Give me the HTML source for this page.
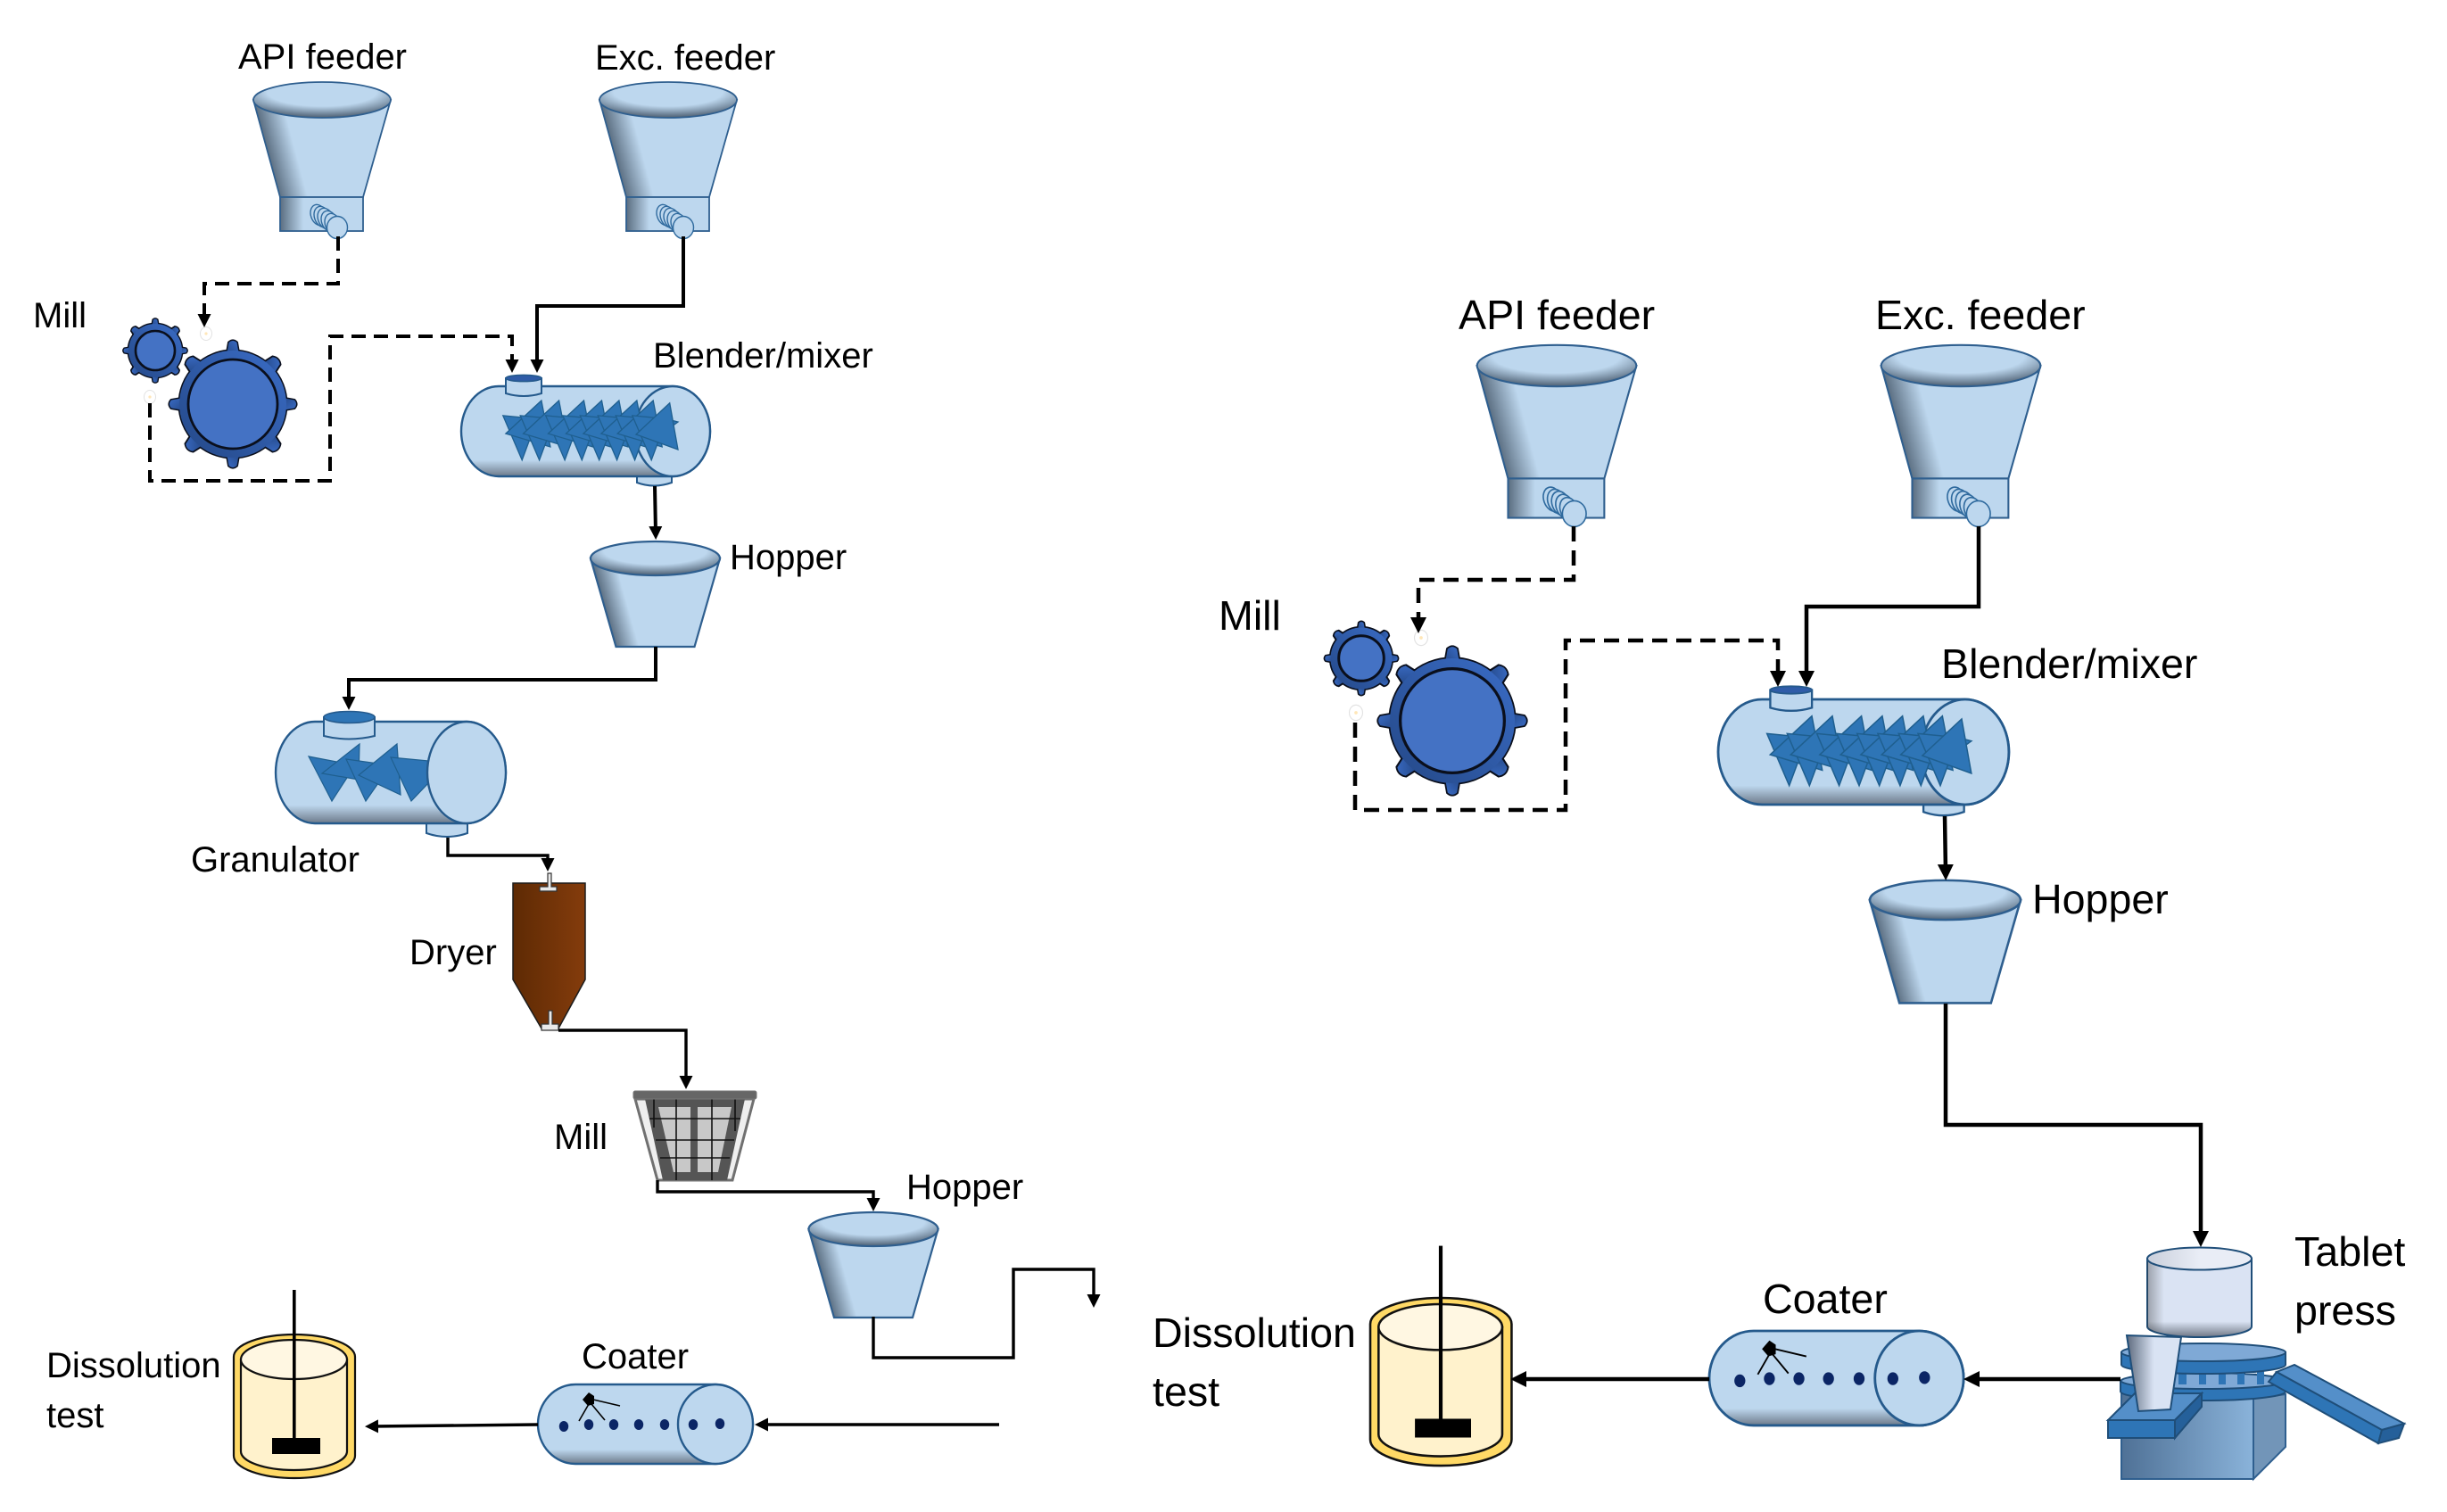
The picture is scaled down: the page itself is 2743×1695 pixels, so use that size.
<!DOCTYPE html>
<html><head><meta charset="utf-8"><style>
html,body{margin:0;padding:0;background:#fff}
svg{display:block}
text{font-family:"Liberation Sans",Arial,sans-serif;fill:#000}
</style></head><body>
<svg width="2743" height="1695" viewBox="0 0 2743 1695" xmlns="http://www.w3.org/2000/svg">
<defs>
<linearGradient id="gL" x1="0" x2="1" y1="0" y2="0"><stop offset="0" stop-color="#5a6d80"/><stop offset=".28" stop-color="#bdd7ee"/><stop offset="1" stop-color="#bdd7ee"/></linearGradient>
<linearGradient id="gTrunk" gradientUnits="userSpaceOnUse" x1="-48" y1="109" x2="-18" y2="101"><stop offset="0" stop-color="#5a6d80"/><stop offset="1" stop-color="#bdd7ee"/></linearGradient>
<linearGradient id="gHop" gradientUnits="userSpaceOnUse" x1="-45" y1="99" x2="-20" y2="92"><stop offset="0" stop-color="#5a6d80"/><stop offset="1" stop-color="#bdd7ee"/></linearGradient>
<radialGradient id="gT" cx=".5" cy=".28" r=".72"><stop offset="0" stop-color="#bdd7ee"/><stop offset=".55" stop-color="#bdd7ee"/><stop offset="1" stop-color="#4d5f72"/></radialGradient>
<linearGradient id="gB" x1="0" x2="0" y1="0" y2="1"><stop offset="0" stop-color="#bdd7ee"/><stop offset=".82" stop-color="#bdd7ee"/><stop offset="1" stop-color="#6d7a8a"/></linearGradient>
<linearGradient id="gDry" x1="0" x2="1" y1="0" y2="0"><stop offset="0" stop-color="#5e2a04"/><stop offset="1" stop-color="#843c0c"/></linearGradient>
<linearGradient id="gBase" x1="0" x2="1" y1="0" y2="0"><stop offset="0" stop-color="#4f7196"/><stop offset="1" stop-color="#8ab3da"/></linearGradient>
<linearGradient id="gCyl" x1="0" x2="0" y1="0" y2="1"><stop offset="0" stop-color="#dae3f3"/><stop offset=".8" stop-color="#dae3f3"/><stop offset="1" stop-color="#6f7785"/></linearGradient>
<linearGradient id="gCylL" x1="0" x2="1" y1="0" y2="0"><stop offset="0" stop-color="#333" stop-opacity=".38"/><stop offset=".16" stop-color="#333" stop-opacity="0"/></linearGradient>
<linearGradient id="gTop2" x1="0" x2="1" y1="0" y2="0"><stop offset="0" stop-color="#c9cfdb"/><stop offset=".5" stop-color="#e9edf6"/></linearGradient>
<linearGradient id="gFun" x1="0" x2="1" y1="0" y2="0"><stop offset="0" stop-color="#5e6a7e"/><stop offset=".5" stop-color="#d9e3f3"/></linearGradient>
<linearGradient id="gGear" x1="0" x2="1" y1="1" y2="0"><stop offset="0" stop-color="#244887"/><stop offset="1" stop-color="#3a6cc6"/></linearGradient>

<marker id="a1" markerUnits="userSpaceOnUse" markerWidth="17" markerHeight="16" refX="8" refY="8" orient="auto"><polygon points="0,0.5 15,8 0,15.5" fill="#000"/></marker>
<marker id="a2" markerUnits="userSpaceOnUse" markerWidth="20" markerHeight="20" refX="8" refY="10" orient="auto"><polygon points="0,1 18,10 0,19" fill="#000"/></marker>

<g id="feeder" stroke="#2f5f8f" stroke-width="1.8">
 <path d="M-77,0 L-47,109 H46 L77,0 Z" fill="url(#gTrunk)"/>
 <rect x="-47" y="109" width="93" height="38" fill="url(#gL)"/>
 <ellipse cx="0" cy="0" rx="77" ry="20" fill="url(#gT)"/>
 <g fill="#bdd7ee" stroke="#2f6a9e" stroke-width="1.4">
  <ellipse cx="-4" cy="129" rx="8.5" ry="12" transform="rotate(-20 -4 129)"/>
  <ellipse cx="0" cy="131" rx="8.5" ry="12" transform="rotate(-20 0 131)"/>
  <ellipse cx="4" cy="133" rx="8.5" ry="12" transform="rotate(-20 4 133)"/>
  <ellipse cx="8" cy="136" rx="8.5" ry="12" transform="rotate(-20 8 136)"/>
  <ellipse cx="12" cy="139" rx="8.5" ry="12" transform="rotate(-20 12 139)"/>
  <ellipse cx="17" cy="143" rx="11.5" ry="12.5"/>
 </g>
</g>

<g id="hopper" stroke="#2f5f8f" stroke-width="2.2">
 <path d="M-72.5,0 L-44,99 H44 L72.5,0 Z" fill="url(#gHop)"/>
 <ellipse cx="0" cy="0" rx="72.5" ry="19" fill="url(#gT)"/>
</g>

<path id="tooth" d="M-7,-55 L-4.5,-69 Q0,-73 4.5,-69 L7,-55 Z"/>
<g id="sil">
 <use href="#tooth"/>
 <use href="#tooth" transform="rotate(45) scale(1.25,1)"/>
 <use href="#tooth" transform="rotate(90)"/>
 <use href="#tooth" transform="rotate(135) scale(1.25,1)"/>
 <use href="#tooth" transform="rotate(180)"/>
 <use href="#tooth" transform="rotate(225) scale(1.25,1)"/>
 <use href="#tooth" transform="rotate(270)"/>
 <use href="#tooth" transform="rotate(315) scale(1.25,1)"/>
 <circle r="60"/>
</g>
<g id="gearBig">
 <use href="#sil" fill="#0a0f1c" stroke="#0a0f1c" stroke-width="3"/>
 <use href="#sil" fill="url(#gGear)"/>
 <circle r="50" fill="#4472c4" stroke="#0a0f1c" stroke-width="2.8"/>
</g>
<g id="gearSmall">
 <g transform="scale(.5)">
  <use href="#sil" fill="#0a0f1c" stroke="#0a0f1c" stroke-width="5.5"/>
  <use href="#sil" fill="url(#gGear)"/>
 </g>
 <circle r="22" fill="#4472c4" stroke="#0a0f1c" stroke-width="2.6"/>
</g>

<g id="blender">
 <path d="M197,101 H236 V108 Q216,115 197,108 Z" fill="#bdd7ee" stroke="#255a8c" stroke-width="2"/>
 <path d="M42,0 H237 A42,50.5 0 0 1 237,101 H42 A42,50.5 0 0 1 42,0 Z" fill="url(#gB)" stroke="#255a8c" stroke-width="2.4"/>
 <ellipse cx="237" cy="50.5" rx="42" ry="50.5" fill="#bdd7ee" stroke="#255a8c" stroke-width="2.4"/>
 <path d="M50,-9 V8 Q70,14 90,8 V-9 Z" fill="#bdd7ee" stroke="#255a8c" stroke-width="2"/>
 <ellipse cx="70" cy="-9" rx="20" ry="3.6" fill="#2f5ca8" stroke="#255a8c" stroke-width="1.6"/>
 <g fill="#2e75b6" stroke="#1f5f8f" stroke-width="1.3">
  <polygon points="228,36 243,40 232,48"/>
  <polygon points="46.8,32.9 85.3,36.6 68.2,82.8"/>
  <polygon points="89.9,16 49.9,53.1 99.9,68"/>
  <polygon points="66.2,32.9 104.7,36.6 87.6,82.8"/>
  <polygon points="109.6,16 69.6,53.1 119.6,68"/>
  <polygon points="94.7,32.9 133.2,36.6 116.1,82.8"/>
  <polygon points="137.5,16 97.5,53.1 147.5,68"/>
  <polygon points="113.9,32.9 152.4,36.6 135.3,82.8"/>
  <polygon points="157.5,16 117.5,53.1 167.5,68"/>
  <polygon points="133.3,32.9 171.8,36.6 154.7,82.8"/>
  <polygon points="176.9,16 136.9,53.1 186.9,68"/>
  <polygon points="153.2,32.9 191.7,36.6 174.6,82.8"/>
  <polygon points="196.9,16 156.9,53.1 206.9,68"/>
  <polygon points="173.2,32.9 211.7,36.6 194.6,82.8"/>
  <polygon points="215.2,16 175.2,53.1 225.2,68"/>
  <polygon points="191.8,32.9 230.3,36.6 213.2,82.8"/>
  <polygon points="233.7,18.8 243,71 196,54"/>
 </g>
</g>

<g id="coater">
 <path d="M42,0 H199 A42,44.5 0 0 1 199,89 H42 A42,44.5 0 0 1 42,0 Z" fill="url(#gB)" stroke="#255a8c" stroke-width="2.4"/>
 <ellipse cx="199" cy="44.5" rx="42" ry="44.5" fill="#bdd7ee" stroke="#255a8c" stroke-width="2.4"/>
 <g fill="#0b2565">
  <ellipse cx="29" cy="47" rx="5.2" ry="6"/><ellipse cx="57" cy="45" rx="5.2" ry="6"/><ellipse cx="85" cy="45" rx="5.2" ry="6"/><ellipse cx="113" cy="45" rx="5.2" ry="6"/><ellipse cx="142" cy="45" rx="5.2" ry="6"/><ellipse cx="174" cy="45" rx="5.2" ry="6"/><ellipse cx="204" cy="44" rx="5.2" ry="6"/>
 </g>
 <polygon points="57,9 63,13 63,22 56,24 50,17" fill="#000"/>
 <path d="M57,22 L46,41 M60,22 L75,40 M62,17 L92,24" stroke="#000" stroke-width="1.6" fill="none"/>
</g>

<g id="vessel">
 <path d="M0,25 V136 A68,25 0 0 0 136,136 V25 A68,25 0 0 0 0,25 Z" fill="#ffd966" stroke="#111" stroke-width="2.2"/>
 <path d="M8,28 V131 A59.5,21 0 0 0 127,131 V28 Z" fill="#fff2cc" stroke="#111" stroke-width="2.2"/>
 <ellipse cx="67.5" cy="28" rx="59.5" ry="22" fill="#fff7e2" stroke="#111" stroke-width="2.2"/>
 <rect x="66" y="-50" width="3.6" height="168" fill="#000"/>
 <rect x="43" y="116" width="54" height="18" fill="#000"/>
</g>
<g id="wc"><ellipse rx="6.5" ry="7.5" fill="#fff" stroke="#e2e2e2" stroke-width="1"/><circle r="1.6" fill="#ffe7b8"/></g>
</defs>

<!-- LEFT PROCESS -->
<use href="#feeder" x="361" y="112"/>
<use href="#feeder" x="749" y="112"/>
<use href="#gearSmall" x="174" y="393"/>
<use href="#gearBig" x="261" y="453"/>
<use href="#wc" x="231" y="374"/>
<use href="#wc" x="168" y="445"/>
<use href="#blender" x="517" y="433"/>
<use href="#hopper" x="734.5" y="626"/>

<!-- granulator -->
<path d="M478,923 H524 V934 Q501,942 478,934 Z" fill="#bdd7ee" stroke="#255a8c" stroke-width="2"/>
<path d="M353,809 H523 A44,57 0 0 1 523,923 H353 A44,57 0 0 1 353,809 Z" fill="url(#gB)" stroke="#255a8c" stroke-width="2.4"/>
<g fill="#2e75b6" stroke="#1f5f8f" stroke-width="1.2">
 <polygon points="346,848 398,858 372,898"/>
 <polygon points="403,834 402,874 361,867"/>
 <polygon points="388,851 438,858 410,898"/>
 <polygon points="445,834 449,891 402,869"/>
 <polygon points="438,849 481,853 481,877 461,898"/>
</g>
<ellipse cx="523" cy="866" rx="44" ry="57" fill="#bdd7ee" stroke="#255a8c" stroke-width="2.4"/>
<path d="M363,804 V825 Q391,832 420,825 V804 Z" fill="#bdd7ee" stroke="#255a8c" stroke-width="2"/>
<ellipse cx="391.5" cy="804" rx="28.5" ry="6.5" fill="#2e75b6" stroke="#255a8c" stroke-width="1.6"/>

<!-- dryer -->
<path d="M575,990 H656 V1098 L626,1153 H607 L575,1098 Z" fill="url(#gDry)" stroke="#1c1c1c" stroke-width="1.5"/>
<path d="M605,994 H614 V979 H618 V994 H624 V999 H605 Z" fill="#e9e9e9" stroke="#333" stroke-width="1.2"/>
<path d="M607,1148 H615 V1133 H619 V1148 H626 V1155 H607 Z" fill="#e9e9e9" stroke="#333" stroke-width="1.2"/>

<!-- screen mill -->
<g>
 <polygon points="712,1232 845,1232 821,1323 737,1323" fill="#eee" stroke="#707070" stroke-width="3"/>
 <polygon points="723,1232 835,1232 815,1323 743,1323" fill="#555"/>
 <polygon points="738,1241 820,1241 805,1314 755,1314" fill="#c8c8c8"/>
 <rect x="774" y="1241" width="8" height="73" fill="#555"/>
 <path d="M733,1232 V1264 M758,1232 V1323 M798,1232 V1323 M824,1232 V1268 M728,1254 H830 M735,1278 H823 M740,1298 H818" stroke="#111" stroke-width="1.6" fill="none"/>
 <rect x="710" y="1223" width="138" height="9" rx="2" fill="#666" stroke="#777" stroke-width="1"/>
</g>

<use href="#hopper" x="979" y="1378"/>
<use href="#coater" x="603" y="1552"/>
<use href="#vessel" x="262" y="1496"/>

<!-- left connectors -->
<g fill="none" stroke="#000" stroke-width="4">
 <path d="M379,265 V318 H229 V360" stroke-dasharray="16 9" marker-end="url(#a1)"/>
 <path d="M168,452 V539 H370 V377 H574 V411" stroke-dasharray="16 9" marker-end="url(#a1)"/>
 <path d="M766,265 V343 H602 V411" marker-end="url(#a1)"/>
 <path d="M734,545 L735,598" marker-end="url(#a1)"/>
 <path d="M735,725 V762 H391 V789" marker-end="url(#a1)"/>
 <path d="M502,939 V959 H614 V970" stroke-width="3.4" marker-end="url(#a1)"/>
 <path d="M626,1155 H769 V1214" stroke-width="3.4" marker-end="url(#a1)"/>
 <path d="M737,1323 V1336 H979 V1351" stroke-width="3.4" marker-end="url(#a1)"/>
 <path d="M979,1476 V1522 H1136 V1423 H1226 V1459" stroke-width="3.4" marker-end="url(#a1)"/>
 <path d="M1120,1597 H853" stroke-width="3.4" marker-end="url(#a1)"/>
 <path d="M603,1597 L416,1599" stroke-width="3.4" marker-end="url(#a1)"/>
</g>

<!-- RIGHT PROCESS -->
<use href="#feeder" transform="translate(1745,410) scale(1.16)"/>
<use href="#feeder" transform="translate(2198,410) scale(1.16)"/>
<use href="#gearSmall" transform="translate(1526,738) scale(1.15)"/>
<use href="#gearBig" transform="translate(1628,808) scale(1.167)"/>
<use href="#wc" transform="translate(1593,715) scale(1.15)"/>
<use href="#wc" transform="translate(1520,799) scale(1.15)"/>
<use href="#blender" transform="translate(1926,784) scale(1.168)"/>
<use href="#hopper" transform="translate(2180.5,1009) scale(1.166)"/>
<use href="#coater" transform="translate(1916,1492) scale(1.183,1.19)"/>
<use href="#vessel" transform="translate(1536,1455) scale(1.165,1.168)"/>

<!-- tablet press -->
<g stroke="#1f4e79" stroke-width="2">
 <rect x="2378" y="1560" width="148" height="98" fill="url(#gBase)" stroke="#2f5f8f"/>
 <polygon points="2526,1568 2562,1563 2562,1622 2526,1658" fill="#7295b8" stroke="#2f5f8f"/>
 <path d="M2377,1548 V1560 A92,10 0 0 0 2562,1560 V1548 Z" fill="#2e75b6"/>
 <ellipse cx="2470" cy="1548" rx="92.5" ry="9" fill="#7fa9d6"/>
 <g stroke="none" fill="#2e75b6">
  <rect x="2442" y="1534" width="9" height="18"/><rect x="2465" y="1534" width="8" height="18"/><rect x="2487" y="1534" width="8" height="18"/><rect x="2508" y="1534" width="8" height="18"/><rect x="2530" y="1534" width="8" height="18"/>
 </g>
 <g stroke="none" fill="#cfe0f2">
  <rect x="2452" y="1536" width="12" height="4"/><rect x="2474" y="1536" width="12" height="4"/><rect x="2496" y="1536" width="11" height="4"/><rect x="2517" y="1536" width="12" height="4"/>
 </g>
 <path d="M2378,1516 V1530 A92,10 0 0 0 2562,1530 V1516 Z" fill="#2e75b6"/>
 <ellipse cx="2470" cy="1516" rx="92" ry="10" fill="#7fa9d6"/>
 <path d="M2407,1411 V1487 A58.5,12 0 0 0 2524,1487 V1411 Z" fill="url(#gCyl)"/>
 <path d="M2407,1411 V1487 A58.5,12 0 0 0 2524,1487 V1411 Z" fill="url(#gCylL)" stroke="none"/>
 <ellipse cx="2465.5" cy="1411" rx="58.5" ry="12.5" fill="url(#gTop2)"/>
 <polygon points="2363,1592 2438,1592 2468,1562 2393,1562" fill="#548fc9"/>
 <polygon points="2363,1592 2438,1592 2438,1612 2363,1612" fill="#2e75b6"/>
 <polygon points="2438,1592 2468,1562 2468,1577 2438,1612" fill="#25609a"/>
 <polygon points="2384,1497 2445,1499 2433,1580 2397,1582" fill="url(#gFun)" stroke-width="2"/>
 <polygon points="2552,1538 2572,1530 2695,1596 2670,1603" fill="#548fc9"/>
 <polygon points="2543,1549 2552,1538 2670,1603 2666,1618" fill="#2e75b6"/>
 <polygon points="2670,1603 2695,1596 2689,1612 2666,1618" fill="#25609a"/>
</g>

<!-- right connectors -->
<g fill="none" stroke="#000" stroke-width="4.5">
 <path d="M1764,590 V650 H1590 V700" stroke-dasharray="17 10" marker-end="url(#a2)"/>
 <path d="M1519,810 V908 H1755 V718 H1993 V760" stroke-dasharray="17 10" marker-end="url(#a2)"/>
 <path d="M2218,590 V680 H2025 V760" marker-end="url(#a2)"/>
 <path d="M2180,915 L2181,977" marker-end="url(#a2)"/>
 <path d="M2181,1125 V1261 H2467 V1388" marker-end="url(#a2)"/>
 <path d="M2377,1546 H2211" marker-end="url(#a2)"/>
 <path d="M1916,1546 H1703" marker-end="url(#a2)"/>
</g>

<!-- labels -->
<g font-size="40">
 <text x="267" y="77">API feeder</text>
 <text x="667" y="78">Exc. feeder</text>
 <text x="37" y="367">Mill</text>
 <text x="732" y="412">Blender/mixer</text>
 <text x="818" y="638">Hopper</text>
 <text x="214" y="977">Granulator</text>
 <text x="459" y="1081">Dryer</text>
 <text x="621" y="1288">Mill</text>
 <text x="1016" y="1344">Hopper</text>
 <text x="652" y="1534">Coater</text>
 <text x="52" y="1544">Dissolution</text>
 <text x="52" y="1600">test</text>
</g>
<g font-size="46.6">
 <text x="1635" y="369">API feeder</text>
 <text x="2102" y="369">Exc. feeder</text>
 <text x="1366" y="706">Mill</text>
 <text x="2176" y="760">Blender/mixer</text>
 <text x="2278" y="1024">Hopper</text>
 <text x="1976" y="1472">Coater</text>
 <text x="1292" y="1510">Dissolution</text>
 <text x="1292" y="1576">test</text>
 <text x="2572" y="1419">Tablet</text>
 <text x="2572" y="1485">press</text>
</g>
</svg>
</body></html>
